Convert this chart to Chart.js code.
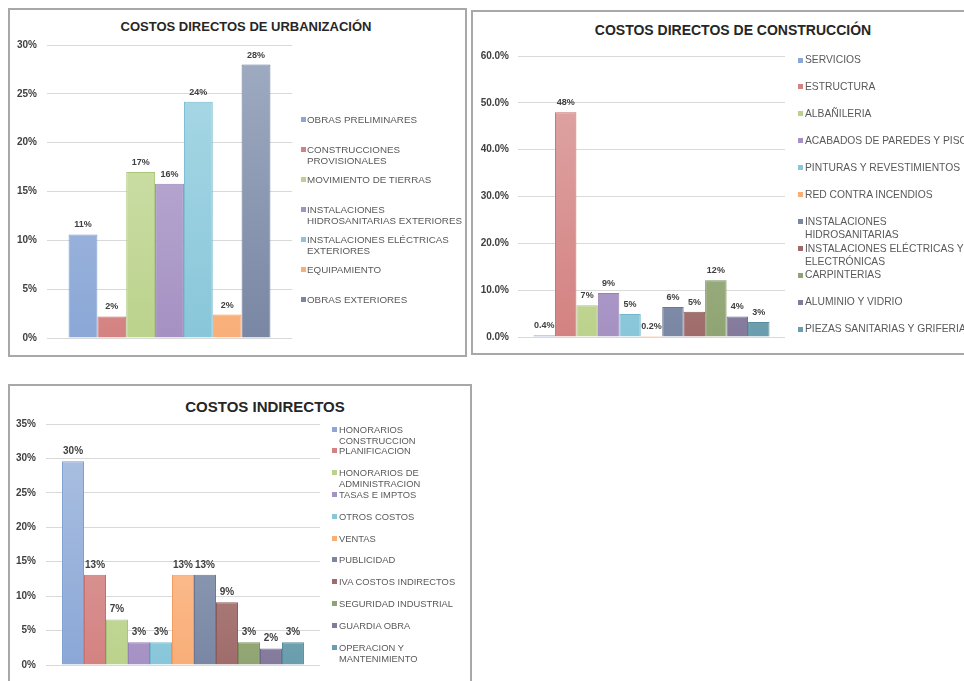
<!DOCTYPE html>
<html>
<head>
<meta charset="utf-8">
<script src="https://cdn.jsdelivr.net/npm/chart.js@4.4.1/dist/chart.umd.min.js"></script>
<style>
body { margin: 0; width: 964px; height: 681px; overflow: hidden; background: #fff; position: relative;
       font-family: "Liberation Sans", Arial, sans-serif; }
.panel { position: absolute; border: 2px solid #a8a8a8; box-sizing: border-box; }
canvas { position: absolute; }
.title { position: absolute; font-weight: bold; color: #262626; white-space: nowrap; transform: translate(-50%, -50%); }
.legend { position: absolute; color: #595959; white-space: pre; }
.item { position: absolute; left: 0; }
.mark { position: absolute; width: 5px; height: 5px; }
</style>
</head>
<body>
<div class="panel" style="left:8px;top:8px;width:459px;height:349px"></div>
<div class="panel" style="left:471px;top:10px;width:520px;height:345px"></div>
<div class="panel" style="left:8px;top:384px;width:464px;height:320px"></div>

<div class="title" style="left:246px;top:26px;font-size:13px">COSTOS DIRECTOS DE URBANIZACIÓN</div>
<div class="title" style="left:733px;top:30px;font-size:14px">COSTOS DIRECTOS DE CONSTRUCCIÓN</div>
<div class="title" style="left:265px;top:406px;font-size:15px">COSTOS INDIRECTOS</div>

<canvas id="urb"></canvas>
<canvas id="con"></canvas>
<canvas id="ind"></canvas>
<div class="legend" id="urbLegend"></div>
<div class="legend" id="conLegend"></div>
<div class="legend" id="indLegend"></div>

<script>
// costos directos de urbanización (%)
const urbCategories = ['OBRAS PRELIMINARES', 'CONSTRUCCIONES\nPROVISIONALES', 'MOVIMIENTO DE TIERRAS',
  'INSTALACIONES\nHIDROSANITARIAS EXTERIORES', 'INSTALACIONES ELÉCTRICAS\nEXTERIORES', 'EQUIPAMIENTO', 'OBRAS EXTERIORES']
const urbValues = [10.6, 2.2, 17.0, 15.8, 24.2, 2.4, 28.0]

// costos directos de construcción (%)
const conCategories = ['SERVICIOS', 'ESTRUCTURA', 'ALBAÑILERIA', 'ACABADOS DE PAREDES Y PISOS',
  'PINTURAS Y REVESTIMIENTOS', 'RED CONTRA INCENDIOS', 'INSTALACIONES\nHIDROSANITARIAS',
  'INSTALACIONES ELÉCTRICAS Y\nELECTRÓNICAS', 'CARPINTERIAS', 'ALUMINIO Y VIDRIO', 'PIEZAS SANITARIAS Y GRIFERIA']
const conValues = [0.4, 48.0, 6.8, 9.4, 4.9, 0.2, 6.4, 5.4, 12.1, 4.4, 3.2]

// costos indirectos (%)
const indCategories = ['HONORARIOS\nCONSTRUCCION', 'PLANIFICACION', 'HONORARIOS DE\nADMINISTRACION',
  'TASAS E IMPTOS', 'OTROS COSTOS', 'VENTAS', 'PUBLICIDAD', 'IVA COSTOS INDIRECTOS',
  'SEGURIDAD INDUSTRIAL', 'GUARDIA OBRA', 'OPERACION Y\nMANTENIMIENTO']
const indValues = [29.6, 13.1, 6.6, 3.3, 3.3, 13.1, 13.1, 9.1, 3.3, 2.4, 3.3]

// top, bottom, border
const palette = [
  ['#aec2e2', '#8aa7d6', '#7f9dd0'],
  ['#e0a9a8', '#d38281', '#c96c6b'],
  ['#d4e4b4', '#bbd28c', '#a9c679'],
  ['#c1b4d7', '#a591c3', '#9580b8'],
  ['#acdae7', '#88c6d9', '#72b9cf'],
  ['#fdcba6', '#f9ae78', '#f59d5e'],
  ['#a0acc2', '#7987a4', '#6a7896'],
  ['#bd9796', '#9f6c6b', '#8c5a59'],
  ['#b0bf98', '#90a473', '#7d9260'],
  ['#a59eb8', '#837a9c', '#716889'],
  ['#93b9c5', '#6a9dad', '#588c9c']
]

Chart.defaults.font.family = '"Liberation Sans", Arial, sans-serif'

const fmt = (v) => v < 1 ? v.toFixed(1) + '%' : Math.round(v) + '%'

const barLabels = {
    id: 'barLabels',
    afterDatasetsDraw(chart, args, opts) {
        const ctx = chart.ctx
        ctx.save()
        ctx.font = 'bold ' + opts.size + 'px "Liberation Sans", Arial, sans-serif'
        ctx.fillStyle = '#404040'
        ctx.textAlign = 'center'
        ctx.textBaseline = 'bottom'
        chart.data.datasets.forEach((ds, i) => {
            chart.getDatasetMeta(i).data.forEach((bar, j) => {
                ctx.fillText(fmt(ds.data[j]), bar.x, bar.y - opts.gap)
            })
        })
        ctx.restore()
    }
}

function makeChart(id, c) {
    const canvas = document.getElementById(id)
    canvas.width = c.w
    canvas.height = c.h
    canvas.style.left = c.x + 'px'
    canvas.style.top = c.y + 'px'

    const datasets = c.categories.map((name, i) => ({
        label: name,
        data: [c.values[i]],
        backgroundColor: (ctx) => {
            const area = ctx.chart.chartArea
            if (!area) return palette[i][1]
            const g = ctx.chart.ctx.createLinearGradient(0, area.top, 0, area.bottom)
            g.addColorStop(0, palette[i][0])
            g.addColorStop(1, palette[i][1])
            return g
        },
        borderColor: palette[i][2],
        borderWidth: 1,
        categoryPercentage: c.catPct,
        barPercentage: 1
    }))

    const chart = new Chart(canvas, {
        type: 'bar',
        data: { labels: [''], datasets: datasets },
        options: {
            responsive: false,
            animation: false,
            devicePixelRatio: 1,
            layout: { padding: c.pad },
            plugins: {
                legend: { display: false },
                title: { display: false },
                tooltip: { enabled: false },
                barLabels: { size: c.labelSize, gap: 5 }
            },
            scales: {
                x: { display: false },
                y: {
                    min: 0,
                    max: c.max,
                    border: { display: false },
                    grid: { color: '#d9d9d9', drawTicks: false },
                    ticks: {
                        stepSize: c.step,
                        padding: c.tickPad,
                        color: '#404040',
                        font: { size: 10, weight: 'bold' },
                        callback: c.tickFmt
                    },
                    afterFit: (scale) => { scale.width = c.axisW }
                }
            }
        },
        plugins: [barLabels]
    })

    // legend built from the datasets
    const lg = document.getElementById(id + 'Legend')
    const L = c.legend
    lg.style.left = L.x + 'px'
    lg.style.top = '0px'
    lg.style.fontSize = L.size + 'px'
    lg.style.lineHeight = L.lh + 'px'
    chart.data.datasets.forEach((ds, i) => {
        const item = document.createElement('div')
        item.className = 'item'
        item.style.top = (L.y + i * L.gap - L.lh / 2) + 'px'
        item.style.left = L.textDx + 'px'
        item.textContent = ds.label
        const mk = document.createElement('span')
        mk.className = 'mark'
        mk.style.background = palette[i][1]
        mk.style.left = (-L.textDx) + 'px'
        mk.style.top = (L.lh / 2 - 2.5) + 'px'
        item.appendChild(mk)
        lg.appendChild(item)
    })
    return chart
}

makeChart('urb', {
    x: 11, y: 11, w: 453, h: 343,
    categories: urbCategories, values: urbValues,
    max: 30, step: 5, tickFmt: (v) => v + '%',
    pad: { top: 34, right: 172, bottom: 9, left: 0 },
    axisW: 36, tickPad: 10, catPct: 0.824, labelSize: 9,
    legend: { x: 301, y: 119, gap: 30, size: 9.8, lh: 11, textDx: 6 }
})

makeChart('con', {
    x: 474, y: 13, w: 490, h: 339,
    categories: conCategories, values: conValues,
    max: 60, step: 10, tickFmt: (v) => v.toFixed(1) + '%',
    pad: { top: 43, right: 179, bottom: 13, left: 0 },
    axisW: 44, tickPad: 9, catPct: 0.884, labelSize: 9,
    legend: { x: 798, y: 60, gap: 26.9, size: 10.3, lh: 13.5, textDx: 7 }
})

makeChart('ind', {
    x: 11, y: 387, w: 459, h: 294,
    categories: indCategories, values: indValues,
    max: 35, step: 5, tickFmt: (v) => v + '%',
    pad: { top: 37, right: 150, bottom: 6, left: 0 },
    axisW: 35, tickPad: 10, catPct: 0.883, labelSize: 10,
    legend: { x: 332, y: 429, gap: 21.8, size: 9.4, lh: 11, textDx: 7 }
})
</script>
</body>
</html>
